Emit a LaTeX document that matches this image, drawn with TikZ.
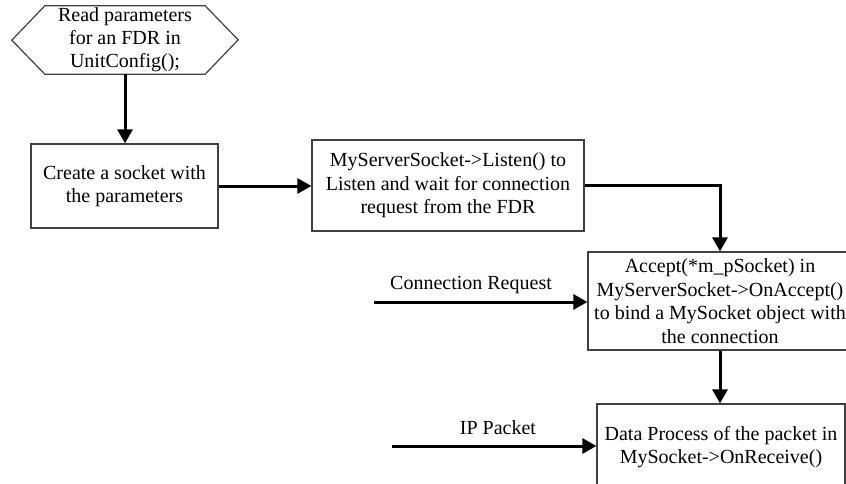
\documentclass[tikz,border=0pt]{standalone}
\usepackage{fontspec}
\setmainfont{Liberation Serif}
\usetikzlibrary{arrows.meta,calc}
\begin{document}
\begin{tikzpicture}[x=1pt,y=-1pt,
  boxline/.style={draw=black!75,line width=1.2pt},
  box/.style={boxline,align=center,inner sep=0pt,
    font=\fontsize{20}{23.5}\selectfont},
  hexbox/.style={align=center,inner sep=0pt,
    font=\fontsize{20}{23}\selectfont},
  lbl/.style={font=\fontsize{20}{23}\selectfont,inner sep=0pt},
  arr/.style={line width=3pt,-{Triangle[length=14pt,width=15pt]}}]
\clip (0,0) rectangle (846,484);
% nodes
\node[hexbox,minimum width=160pt,minimum height=68pt] (hex) at (125,40)
  {Read parameters\\for an FDR in\\UnitConfig();};
\draw[boxline] (hex.north west) -- (hex.north east) -- ++(33,34)
  -- (hex.south east) -- (hex.south west) -- ++(-33,-34) -- cycle;
\node[box,minimum width=187pt,minimum height=84pt] (box1) at (124.5,186)
  {Create a socket with\\the parameters};
\node[box,minimum width=272pt,minimum height=91pt] (box2) at (448,185.5)
  {MyServerSocket->Listen() to\\Listen and wait for connection\\request from the FDR};
\node[box,minimum width=264pt,minimum height=98pt] (box3) at (720,301)
  {Accept(*m\_pSocket) in\\MyServerSocket->OnAccept()\\to bind a MySocket object with\\the connection};
\node[box,minimum width=248pt,minimum height=86pt] (box4) at (721,447)
  {Data Process of the packet in\\MySocket->OnReceive()};
% free ends of the input connectors
\coordinate (crs) at (374,302);
\coordinate (ips) at (392,446);
% connectors
\draw[arr] (hex.south) -- (hex.south |- box1.north);
\draw[arr] (box1.east) -- (box1.east -| box2.west);
\draw[arr] (box2.east) -| (box3.north);
\draw[arr] (box3.south) -- (box3.south |- box4.north);
\draw[arr] (crs) -- (crs -| box3.west);
\draw[arr] (ips) -- (ips -| box4.west);
% labels
\node[lbl] (crl) at (471,285) {Connection Request};
\node[lbl] (ipl) at (498,428) {IP Packet};
\end{tikzpicture}
\end{document}
